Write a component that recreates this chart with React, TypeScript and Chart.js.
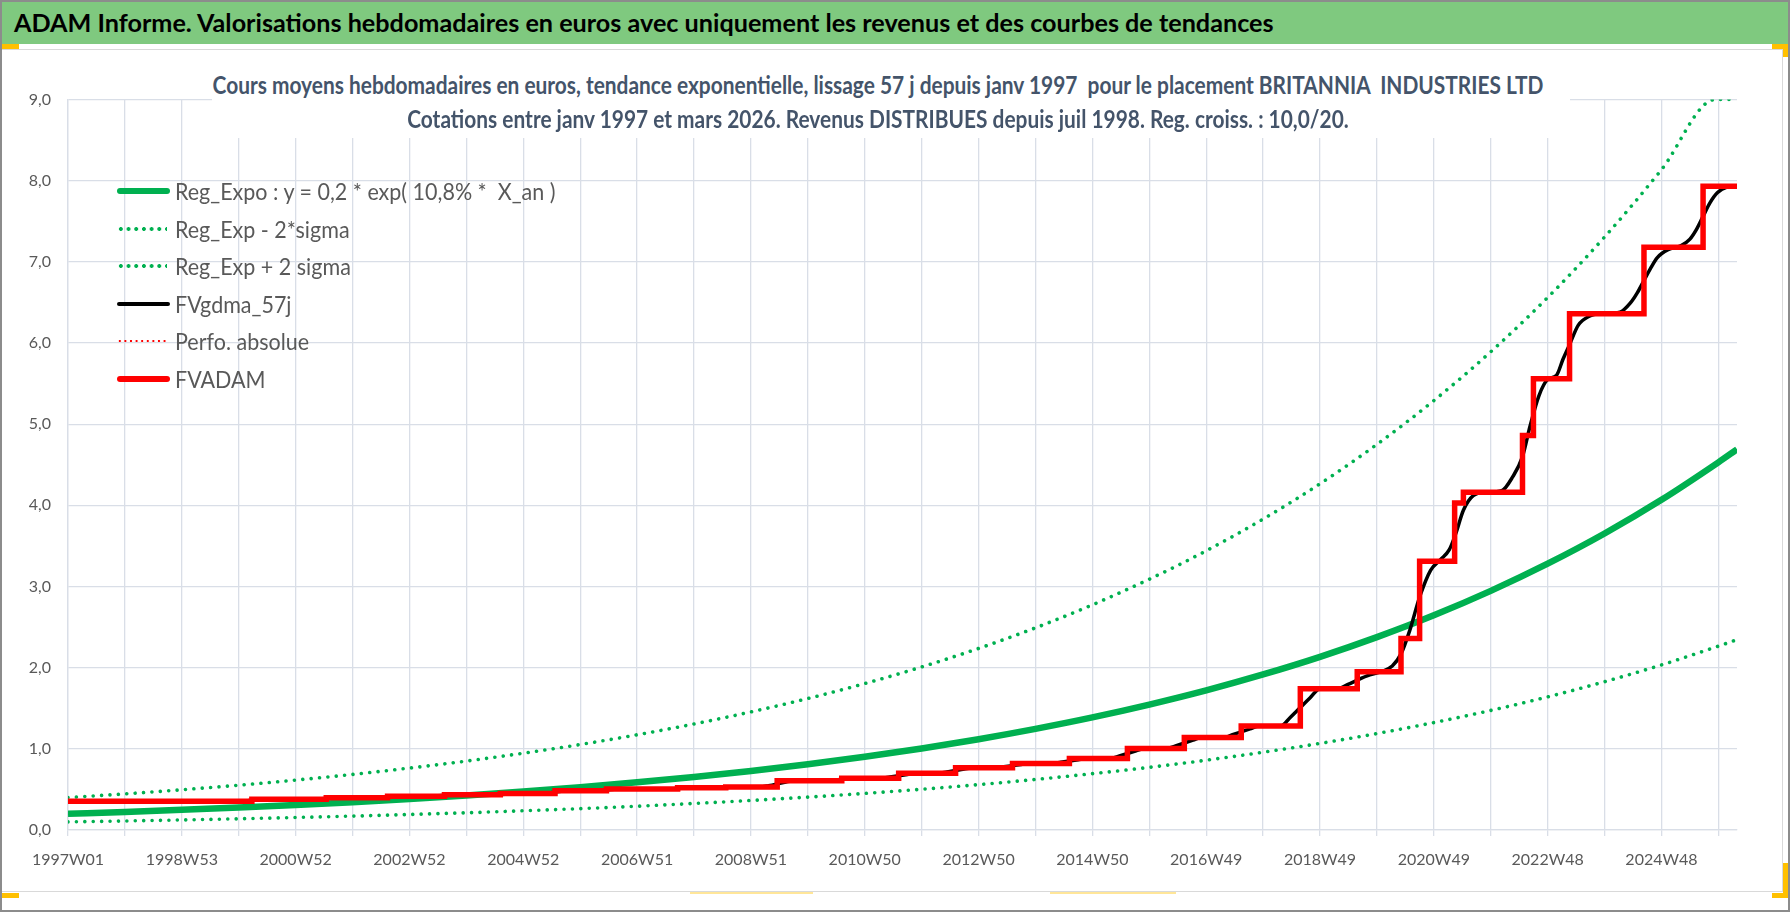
import React, { useEffect, useRef } from 'react';
import { Chart, registerables } from 'chart.js';

Chart.register(...registerables);

// ---- Data ----
const tickLabels = ['1997W01', '1998W53', '2000W52', '2002W52', '2004W52', '2006W51', '2008W51', '2010W50', '2012W50', '2014W50', '2016W49', '2018W49', '2020W49', '2022W48', '2024W48'];
const lastWeek = 1525;

const trendWeeks = [0, 52, 104, 156, 208, 260, 312, 364, 416, 468, 520, 572, 624, 676, 728, 780, 832, 884, 936, 988, 1040, 1092, 1144, 1196, 1248, 1300, 1352, 1404, 1456, 1508, 1525];
const regExpo = [0.2, 0.223, 0.248, 0.276, 0.308, 0.343, 0.381, 0.425, 0.473, 0.527, 0.587, 0.653, 0.727, 0.81, 0.902, 1.005, 1.119, 1.246, 1.387, 1.545, 1.72, 1.916, 2.133, 2.376, 2.645, 2.946, 3.281, 3.653, 4.068, 4.53, 4.69];
const regLow = [0.1, 0.111, 0.124, 0.138, 0.154, 0.171, 0.191, 0.212, 0.237, 0.263, 0.293, 0.327, 0.364, 0.405, 0.451, 0.502, 0.559, 0.623, 0.694, 0.772, 0.86, 0.958, 1.067, 1.188, 1.323, 1.473, 1.64, 1.827, 2.034, 2.265, 2.345];

const highWeeks = [0, 52, 104, 156, 208, 260, 312, 364, 416, 468, 520, 572, 624, 676, 728, 780, 832, 884, 936, 988, 1040, 1092, 1144, 1196, 1248, 1300, 1352, 1404, 1456, 1505, 1525];
const regHigh = [0.4, 0.445, 0.496, 0.552, 0.615, 0.685, 0.763, 0.849, 0.946, 1.053, 1.173, 1.306, 1.455, 1.62, 1.804, 2.009, 2.237, 2.491, 2.774, 3.09, 3.44, 3.831, 4.266, 4.751, 5.291, 5.892, 6.561, 7.306, 8.136, 9.0, 9.0];

const fvadamWeeks = [0, 168, 236, 292, 344, 395, 445, 492, 557, 601, 648, 707, 759, 811, 863, 915, 968, 1020, 1072, 1126, 1178, 1218, 1235, 1267, 1275, 1329, 1339, 1372, 1440, 1494, 1525];
const fvadam = [0.354, 0.379, 0.396, 0.417, 0.433, 0.45, 0.483, 0.504, 0.52, 0.53, 0.607, 0.639, 0.7, 0.766, 0.82, 0.88, 1.004, 1.14, 1.28, 1.74, 1.95, 2.36, 3.31, 4.03, 4.16, 4.86, 5.56, 6.36, 7.18, 7.93, 7.93];

const fvgdmaWeeks = [0, 155, 181, 223, 249, 279, 305, 331, 357, 382, 408, 432, 458, 479, 505, 544, 570, 588, 614, 632, 640, 656, 664, 691, 699, 715, 723, 743, 751, 767, 775, 795, 803, 819, 827, 847, 855, 871, 879, 899, 907, 923, 931, 952, 960, 976, 984, 1004, 1012, 1028, 1036, 1056, 1064, 1080, 1088, 1108, 1117, 1126, 1135, 1144, 1160, 1169, 1187, 1200, 1210, 1218, 1226, 1235, 1245, 1254, 1262, 1268, 1275, 1284, 1295, 1310, 1320, 1329, 1336, 1344, 1352, 1360, 1366, 1372, 1380, 1390, 1400, 1418, 1428, 1434, 1440, 1446, 1452, 1462, 1474, 1482, 1488, 1494, 1500, 1507, 1516, 1525];
const fvgdma = [0.354, 0.354, 0.379, 0.379, 0.396, 0.396, 0.417, 0.417, 0.433, 0.433, 0.45, 0.45, 0.483, 0.483, 0.504, 0.504, 0.52, 0.52, 0.53, 0.53, 0.545, 0.592, 0.607, 0.607, 0.615, 0.631, 0.639, 0.639, 0.654, 0.685, 0.7, 0.7, 0.716, 0.75, 0.766, 0.766, 0.779, 0.807, 0.82, 0.82, 0.834, 0.866, 0.88, 0.88, 0.91, 0.974, 1.004, 1.004, 1.036, 1.108, 1.14, 1.14, 1.174, 1.246, 1.28, 1.28, 1.39, 1.51, 1.63, 1.74, 1.74, 1.79, 1.9, 1.95, 2.02, 2.17, 2.46, 2.87, 3.2, 3.33, 3.45, 3.65, 3.94, 4.12, 4.16, 4.18, 4.35, 4.6, 4.98, 5.35, 5.55, 5.6, 5.8, 5.98, 6.22, 6.33, 6.36, 6.38, 6.5, 6.62, 6.77, 6.92, 7.05, 7.15, 7.2, 7.28, 7.4, 7.56, 7.72, 7.85, 7.92, 7.93];

const perfoWeeks: number[] = [];
const perfo: number[] = [];

const legendLabels = ['Reg_Expo : y = 0,2 * exp( 10,8% *  X_an )', 'Reg_Exp - 2*sigma', 'Reg_Exp + 2 sigma', 'FVgdma_57j', 'Perfo. absolue', 'FVADAM'];

const bannerText = 'ADAM Informe. Valorisations hebdomadaires en euros avec uniquement les revenus et des courbes de tendances';
const titleLine1 = 'Cours moyens hebdomadaires en euros, tendance exponentielle, lissage 57 j depuis janv 1997  pour le placement BRITANNIA  INDUSTRIES LTD';
const titleLine2 = 'Cotations entre janv 1997 et mars 2026. Revenus DISTRIBUES depuis juil 1998. Reg. croiss. : 10,0/20.';

const toPoints = (xs: number[], ys: number[]) => xs.map((x, i) => ({ x, y: ys[i] }));

const GREEN = '#00B050';
const RED = '#FF0000';
const GRID = '#D9DEE7';
const AXIS_TEXT = '#595959';
const FONT = 'Lato, "Open Sans", sans-serif';

function LegendSwatch({ kind }: { kind: number }) {
  const base: React.CSSProperties = { position: 'absolute', left: 117, width: 53 };
  if (kind === 0) return <div style={{ ...base, top: -3, height: 6, borderRadius: 3, background: GREEN }} />;
  if (kind === 1 || kind === 2)
    return (
      <div
        style={{
          ...base,
          top: -3,
          height: 6,
          width: 50,
          backgroundImage: `radial-gradient(circle at center, ${GREEN} 1.7px, transparent 2.2px)`,
          backgroundSize: '7.7px 6px',
        }}
      />
    );
  if (kind === 3) return <div style={{ ...base, top: -2, height: 3.5, borderRadius: 2, background: '#000' }} />;
  if (kind === 4)
    return (
      <div
        style={{
          ...base,
          top: -2,
          height: 4,
          width: 50,
          backgroundImage: `radial-gradient(circle at center, ${RED} 1.1px, transparent 1.5px)`,
          backgroundSize: '5.6px 4px',
        }}
      />
    );
  return <div style={{ ...base, top: -3, height: 6, borderRadius: 3, background: RED }} />;
}

export default function App() {
  const canvasRef = useRef<HTMLCanvasElement | null>(null);

  useEffect(() => {
    if (!canvasRef.current) return;
    Chart.defaults.font.family = FONT;
    const chart = new Chart(canvasRef.current, {
      type: 'line',
      data: {
        datasets: [
          {
            label: legendLabels[0],
            data: toPoints(trendWeeks, regExpo),
            borderColor: GREEN,
            borderWidth: 6.5,
            cubicInterpolationMode: 'monotone',
            pointRadius: 0,
            order: 5,
          },
          {
            label: legendLabels[1],
            data: toPoints(trendWeeks, regLow),
            borderColor: GREEN,
            borderWidth: 3.6,
            borderDash: [0.01, 8.4],
            borderCapStyle: 'round',
            cubicInterpolationMode: 'monotone',
            pointRadius: 0,
            order: 4,
          },
          {
            label: legendLabels[2],
            data: toPoints(highWeeks, regHigh),
            borderColor: GREEN,
            borderWidth: 3.6,
            borderDash: [0.01, 8.4],
            borderCapStyle: 'round',
            cubicInterpolationMode: 'monotone',
            pointRadius: 0,
            order: 3,
          },
          {
            label: legendLabels[3],
            data: toPoints(fvgdmaWeeks, fvgdma),
            borderColor: '#000000',
            borderWidth: 3.5,
            cubicInterpolationMode: 'monotone',
            pointRadius: 0,
            order: 2,
          },
          {
            label: legendLabels[4],
            data: toPoints(perfoWeeks, perfo),
            borderColor: RED,
            borderWidth: 2,
            borderDash: [2, 3],
            pointRadius: 0,
            order: 1,
          },
          {
            label: legendLabels[5],
            data: toPoints(fvadamWeeks, fvadam),
            borderColor: RED,
            borderWidth: 5.5,
            stepped: true,
            pointRadius: 0,
            order: 0,
          },
        ],
      },
      options: {
        animation: false,
        responsive: true,
        maintainAspectRatio: false,
        layout: { padding: { left: 8, top: 99.5, right: 53, bottom: 32 } },
        plugins: { legend: { display: false }, title: { display: false }, tooltip: { enabled: false } },
        elements: { point: { radius: 0 } },
        scales: {
          x: {
            type: 'linear',
            min: 0,
            max: lastWeek,
            afterFit: (s: any) => {
              s.height = 50;
            },
            ticks: {
              stepSize: 52,
              includeBounds: false,
              autoSkip: false,
              maxRotation: 0,
              color: AXIS_TEXT,
              font: { size: 16 },
              padding: 14,
              callback: (v: any) => {
                const n = Number(v);
                return n % 104 === 0 ? tickLabels[n / 104] ?? '' : '';
              },
            },
            grid: { color: GRID, lineWidth: 1.3, drawTicks: true, tickLength: 6 },
            border: { color: GRID, width: 1.3 },
          },
          y: {
            min: 0,
            max: 9,
            afterFit: (s: any) => {
              s.width = 60;
            },
            ticks: {
              stepSize: 1,
              color: AXIS_TEXT,
              font: { size: 16 },
              padding: 17,
              callback: (v: any) => Number(v).toFixed(1).replace('.', ','),
            },
            grid: { color: GRID, lineWidth: 1.3, drawTicks: false },
            border: { color: GRID, width: 1.3 },
          },
        },
      },
    });
    return () => chart.destroy();
  }, []);

  const legendCenters = [191, 229, 266, 304, 341, 379];
  const yellow = '#FFC000';
  const titleLineStyle: React.CSSProperties = { height: 34, lineHeight: '34px', transform: 'scaleY(1.18)', transformOrigin: '50% 50%' };

  return (
    <div style={{ position: 'absolute', left: 0, top: 0, width: 1790, height: 912, background: '#fff', overflow: 'hidden', fontFamily: FONT }}>
      {/* banner */}
      <div style={{ position: 'absolute', left: 2, top: 2, width: 1786, height: 41.5, background: '#7FC97F' }} />
      <div style={{ position: 'absolute', left: 14, top: 2, height: 41.5, lineHeight: '41.5px', fontSize: 25.2, fontWeight: 700, color: '#000', whiteSpace: 'nowrap' }}>
        {bannerText}
      </div>
      {/* chart box */}
      <div style={{ position: 'absolute', left: 2, top: 48.5, width: 1781, height: 843, borderTop: '1.5px solid #D9D9D9', borderRight: '1.5px solid #D9D9D9', borderBottom: '1.5px solid #D9D9D9', boxSizing: 'border-box' }} />
      {/* chart canvas */}
      <div style={{ position: 'absolute', left: 0, top: 0, width: 1790, height: 912 }}>
        <canvas ref={canvasRef} />
      </div>
      {/* chart title */}
      <div style={{ position: 'absolute', left: 212, top: 56, width: 1358, height: 82, background: '#fff', boxSizing: 'border-box', paddingTop: 12, paddingRight: 26, textAlign: 'center', color: '#44546A', fontWeight: 700, fontSize: 20.9, whiteSpace: 'pre' }}>
        <div style={titleLineStyle}>{titleLine1}</div>
        <div style={titleLineStyle}>{titleLine2}</div>
      </div>
      {/* legend */}
      {legendLabels.map((lab, i) => (
        <div key={lab} style={{ position: 'absolute', left: 0, top: legendCenters[i], width: 0, height: 0 }}>
          <LegendSwatch kind={i} />
          <div style={{ position: 'absolute', left: 175, top: -15, height: 30, lineHeight: '30px', fontSize: 21.5, color: AXIS_TEXT, whiteSpace: 'pre', transform: 'scaleY(1.08)', transformOrigin: '0 50%' }}>{lab}</div>
        </div>
      ))}
      {/* yellow selection marks */}
      <div style={{ position: 'absolute', left: 2, top: 43.5, width: 17, height: 5.5, background: yellow }} />
      <div style={{ position: 'absolute', left: 1772, top: 43.5, width: 16, height: 5.5, background: yellow }} />
      <div style={{ position: 'absolute', left: 1783, top: 43.5, width: 5, height: 13.5, background: yellow }} />
      <div style={{ position: 'absolute', left: 2, top: 893, width: 17, height: 5, background: yellow }} />
      <div style={{ position: 'absolute', left: 1772, top: 893, width: 16, height: 5, background: yellow }} />
      <div style={{ position: 'absolute', left: 1783, top: 863, width: 5, height: 35, background: yellow }} />
      <div style={{ position: 'absolute', left: 690, top: 892, width: 123, height: 1.5, background: '#FFE699' }} />
      <div style={{ position: 'absolute', left: 1050, top: 892, width: 126, height: 1.5, background: '#FFE699' }} />
      {/* outer border */}
      <div style={{ position: 'absolute', left: 0, top: 0, width: 1790, height: 912, border: '2px solid #8C8C8C', boxSizing: 'border-box', pointerEvents: 'none' }} />
    </div>
  );
}
